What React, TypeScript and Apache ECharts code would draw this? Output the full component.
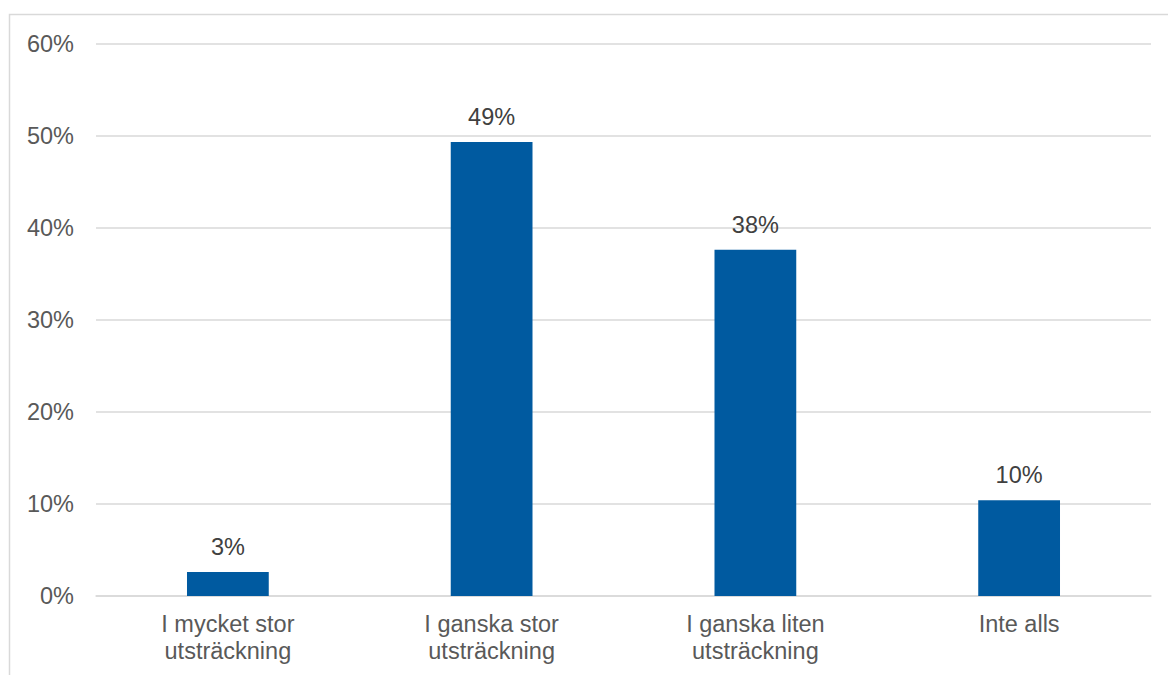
import React, { useEffect, useRef } from "react";
import * as echarts from "echarts";

const categories = ["I mycket stor\nutsträckning", "I ganska stor\nutsträckning", "I ganska liten\nutsträckning", "Inte alls"];
const values = [2.6, 49.3, 37.6, 10.4];
const yTicks = [0, 10, 20, 30, 40, 50, 60];

export default function App() {
  const ref = useRef<HTMLDivElement>(null);
  useEffect(() => {
    document.body.style.margin = "0";
    const chart = echarts.init(ref.current!, null, { renderer: "svg" });
    chart.setOption({
      animation: false,
      backgroundColor: "#ffffff",
      textStyle: { fontFamily: "Liberation Sans, Arial, sans-serif" },
      graphic: [
        {
          type: "rect",
          shape: { x: 9.5, y: 14.5, width: 1200, height: 700 },
          style: { fill: "none", stroke: "#D9D9D9", lineWidth: 1.5 },
          silent: true,
        },
      ],
      grid: { left: 96, right: 17, top: 43.5, bottom: 79, containLabel: false },
      xAxis: {
        type: "category",
        data: categories,
        axisTick: { show: false },
        axisLine: { lineStyle: { color: "#D9D9D9", width: 1.5 } },
        axisLabel: {
          color: "#595959",
          fontSize: 23.5,
          lineHeight: 27,
          margin: 14,
          interval: 0,
        },
      },
      yAxis: {
        type: "value",
        min: 0,
        max: yTicks[yTicks.length - 1],
        interval: 10,
        axisLine: { show: false },
        axisTick: { show: false },
        splitLine: { lineStyle: { color: "#D9D9D9", width: 1.5 } },
        axisLabel: {
          color: "#595959",
          fontSize: 23.5,
          margin: 22,
          formatter: (v: number) => `${v}%`,
        },
      },
      series: [
        {
          type: "bar",
          data: values,
          barWidth: "31%",
          itemStyle: { color: "#005AA0" },
          label: {
            show: true,
            position: "top",
            distance: 13,
            color: "#404040",
            fontSize: 23.5,
            formatter: (p: any) => `${Math.round(p.value)}%`,
          },
        },
      ],
    });
    return () => chart.dispose();
  }, []);
  return <div ref={ref} style={{ width: 1168, height: 675, position: "absolute", left: 0, top: 0 }} />;
}
